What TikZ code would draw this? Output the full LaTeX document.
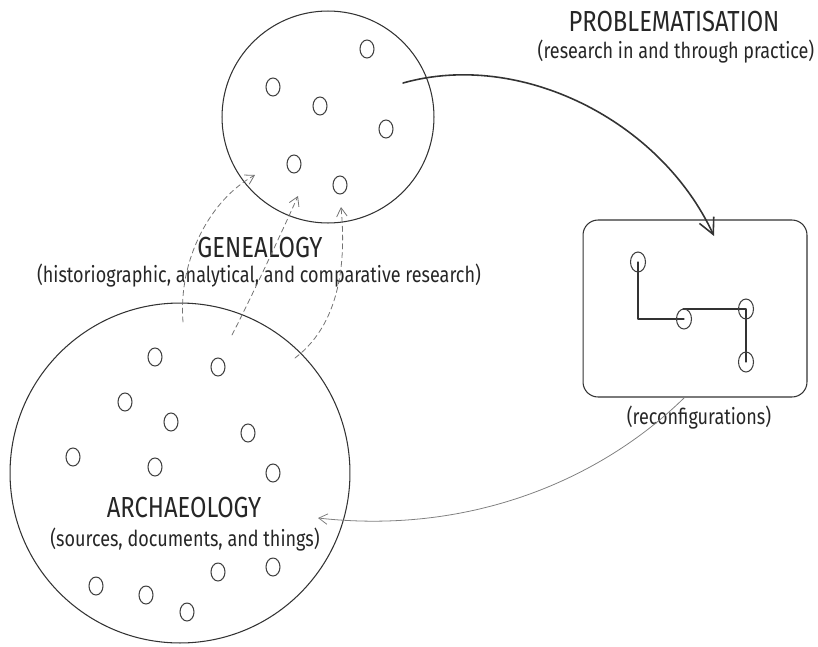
\documentclass[tikz,border=0pt]{standalone}
\usepackage{fontspec}
\setmainfont{Fira Sans}[FakeStretch=0.82]
\usetikzlibrary{arrows.meta}

\tikzset{
  dot/.style={line width=0.6pt, black!75},
  flow/.style={line width=0.9pt, black!80, -{Straight Barb[length=9pt, width=9pt, line width=0.9pt]}},
  trace/.style={line width=0.45pt, black!55, densely dashed, -{Straight Barb[length=5pt, width=6pt]}},
  back/.style={line width=0.45pt, black!50, -{Straight Barb[length=5pt, width=6pt]}},
  title/.style={font=\fontsize{16.5}{18}\selectfont, black!85},
  sub/.style={font=\fontsize{12.5}{14}\selectfont, black!85}
}

\begin{document}
\begin{tikzpicture}[x=0.02cm, y=-0.02cm, line width=0.6pt, line cap=round, line join=round]
  \useasboundingbox (0,0) rectangle (818,646);

  % genealogy circle
  \node[draw, circle, black!80, minimum size=4.24cm, inner sep=0pt] (gen) at (328,117) {};
  \foreach \x/\y in {367/49, 273/87, 320/106, 386/129, 294/164, 340/185}
    \draw[dot] (\x,\y) ellipse [x radius=0.14cm, y radius=0.18cm];

  % archaeology circle
  \node[draw, circle, black!80, minimum size=6.8cm, inner sep=0pt] (arch) at (180,473) {};
  \foreach \x/\y in {155/357, 218/367, 125/402, 171/422, 248/433, 73/457, 155/467,
                     273/473, 218/572, 273/567, 96/586, 146/595, 187/612}
    \draw[dot] (\x,\y) ellipse [x radius=0.14cm, y radius=0.18cm];

  % reconfigurations box
  \node[draw, rounded corners=0.3cm, black!80, minimum width=4.48cm, minimum height=3.54cm] (box) at (695,308.5) {};
  \coordinate (ra) at (638,262);
  \coordinate (rb) at (684,319);
  \coordinate (rc) at (746,309);
  \coordinate (rd) at (746,362);
  \draw[black!80] (ra) |- (rb);
  \draw[black!80] (683,309) -- (rc) -- (rd);
  \foreach \p in {ra, rb, rc, rd}
    \draw[dot] (\p) ellipse [x radius=0.15cm, y radius=0.2cm];

  % labels
  \node[title] (gtitle) at (260,248) {GENEALOGY};
  \node[sub] (gsub) at (259,276) {(historiographic, analytical, and comparative research)};
  \node[title] (atitle) at (184,508) {ARCHAEOLOGY};
  \node[sub] (asub) at (185,540) {(sources, documents, and things)};
  \node[title] (ptitle) at (674,22) {PROBLEMATISATION};
  \node[sub] (psub) at (676,52) {(research in and through practice)};
  \node[sub] (rlabel) at (699,418) {(reconfigurations)};

  % problematisation arrow
  \coordinate (p0) at (403,83);
  \coordinate (p1) at (714,236);
  \draw[flow] (p0) .. controls (520,50) and (660,120) .. (p1);

  % traces from archaeology up to genealogy
  \coordinate (t1s) at (183,322);
  \coordinate (t1e) at (255,175);
  \coordinate (t2s) at (232,335);
  \coordinate (t2e) at (298,196);
  \coordinate (t3s) at (295,358);
  \coordinate (t3e) at (341,207);
  \draw[trace] (t1s) .. controls (178,260) and (210,200) .. (t1e);
  \draw[trace] (t2s) .. controls (255,290) and (285,225) .. (t2e);
  \draw[trace] (t3s) .. controls (345,320) and (345,250) .. (t3e);

  % back to archaeology
  \coordinate (b0) at (684,398);
  \coordinate (b1) at (318,518);
  \draw[back] (b0) .. controls (600,480) and (470,535) .. (b1);
\end{tikzpicture}
\end{document}
